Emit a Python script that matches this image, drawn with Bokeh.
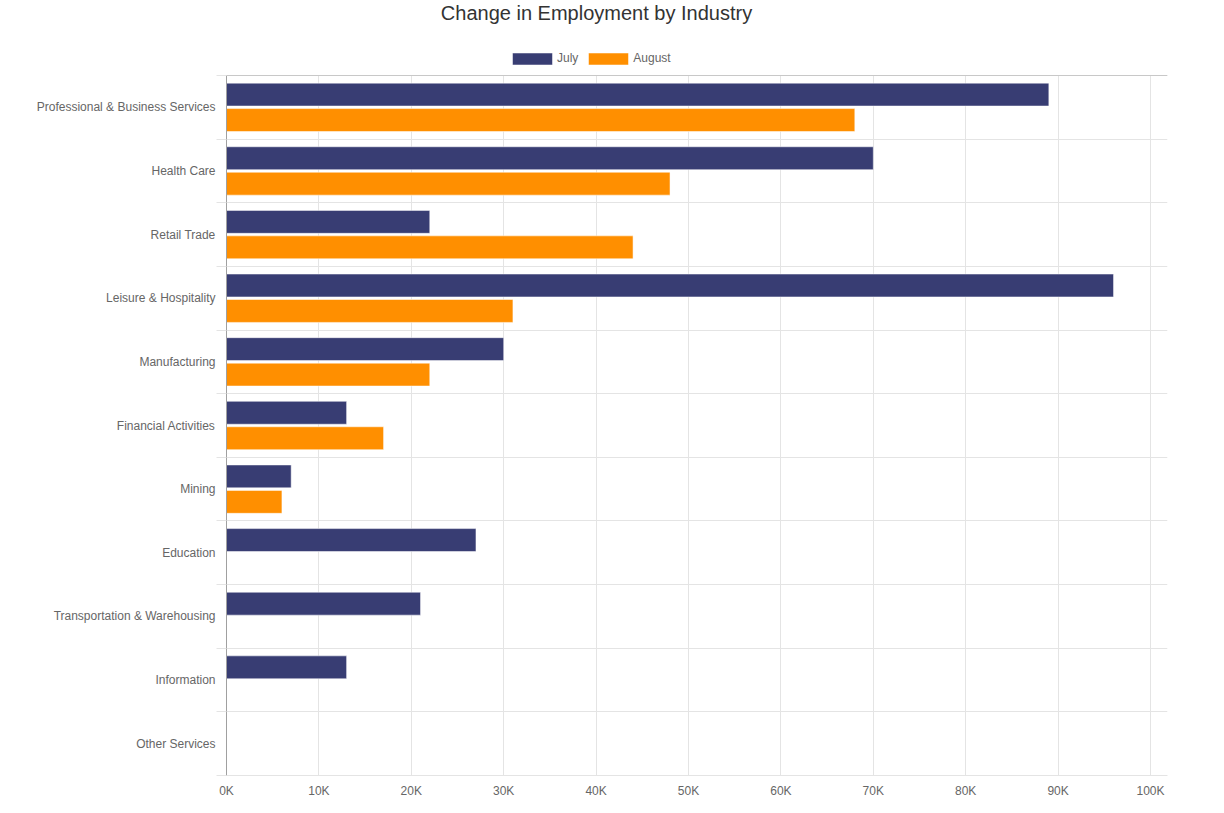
from bokeh.plotting import figure
from bokeh.models import (ColumnDataSource, Range1d, FixedTicker, Legend, LegendItem,
                          Label, Span)
from bokeh.transform import dodge
from bokeh.embed import file_html
from bokeh.resources import INLINE

industries = ["Professional & Business Services", "Health Care", "Retail Trade",
              "Leisure & Hospitality", "Manufacturing", "Financial Activities", "Mining",
              "Education", "Transportation & Warehousing", "Information", "Other Services"]
july = [89000, 70000, 22000, 96000, 30000, 13000, 7000, 27000, 21000, 13000, 0]
august = [68000, 48000, 44000, 31000, 22000, 17000, 6000, 0, 0, 0, 0]
x_ticks = [0, 10000, 20000, 30000, 40000, 50000, 60000, 70000, 80000, 90000, 100000]
x_tick_labels = ["0K", "10K", "20K", "30K", "40K", "50K", "60K", "70K", "80K", "90K", "100K"]

n = len(industries)
pos = [n - 1 - i for i in range(n)]
src = ColumnDataSource(dict(pos=pos, name=industries, july=july, august=august))

FONT = "Liberation Sans"
GRID = "#e4e4e4"

BAND_PX = 700 / n          # pixel height of one category band
HEADER_PX = 75             # space above the bars for title + legend
FRAME_H = 700 + HEADER_PX
y_top = n - 0.5 + HEADER_PX / BAND_PX

p = figure(output_backend="svg", toolbar_location=None,
           x_range=Range1d(0, 101840), y_range=Range1d(-0.5, y_top),
           min_border_left=226, min_border_right=30, min_border_top=0,
           min_border_bottom=30, frame_width=941, frame_height=FRAME_H)
p.outline_line_color = None

r1 = p.hbar(y=dodge("pos", 0.2), right="july", left=0, height=0.36, source=src,
            fill_color="#383d73", line_color="white", line_alpha=0.5, line_width=1)
r2 = p.hbar(y=dodge("pos", -0.2), right="august", left=0, height=0.36, source=src,
            fill_color="#ff8f00", line_color="white", line_alpha=0.5, line_width=1)

# x axis
p.xaxis.ticker = FixedTicker(ticks=x_ticks)
p.xaxis.major_label_overrides = {t: l for t, l in zip(x_ticks, x_tick_labels)}
p.xaxis.axis_line_color = GRID
p.xaxis.major_tick_line_color = None
p.xaxis.minor_tick_line_color = None
p.xaxis.major_label_text_font = FONT
p.xaxis.major_label_text_font_size = "12px"
p.xaxis.major_label_text_color = "#666666"
p.xaxis.major_label_standoff = 2
p.xgrid.grid_line_color = GRID
p.xgrid.cross_bounds = (-0.5, n - 0.5)

# y axis
centers = pos
bounds = [k - 0.5 for k in range(n + 1)]
p.yaxis.ticker = FixedTicker(ticks=centers, minor_ticks=bounds)
p.yaxis.bounds = (-0.5, n - 0.5)
p.yaxis.major_label_overrides = {k: name for k, name in zip(pos, industries)}
p.yaxis.major_tick_line_color = None
p.yaxis.major_tick_out = 6
p.yaxis.major_tick_in = 0
p.yaxis.minor_tick_line_color = GRID
p.yaxis.minor_tick_out = 10
p.yaxis.minor_tick_in = 0
p.yaxis.axis_line_color = "#a0a0a0"
p.yaxis.major_label_text_font = FONT
p.yaxis.major_label_text_font_size = "12px"
p.yaxis.major_label_text_color = "#666666"
p.yaxis.major_label_standoff = 1
p.ygrid.grid_line_color = None
p.ygrid.minor_grid_line_color = GRID
p.ygrid.bounds = (-0.5, n - 0.5)

p.add_layout(Span(location=n - 0.5, dimension="width", line_color="#c8c8c8", line_width=1))

legend = Legend(items=[LegendItem(label="July", renderers=[r1]),
                       LegendItem(label="August", renderers=[r2])],
                orientation="horizontal", location=(281, FRAME_H - 65.5),
                glyph_width=50, glyph_height=15, label_standoff=0, spacing=5,
                padding=0, margin=0, border_line_color=None, background_fill_alpha=0,
                label_text_font=FONT, label_text_font_size="12px", label_text_color="#666666",
                label_height=15)
p.add_layout(legend, "center")

p.add_layout(Label(text="Change in Employment by Industry", x=370, y=FRAME_H - 12,
                   x_units="screen", y_units="screen", text_align="center",
                   text_baseline="alphabetic", text_font=FONT, text_font_size="20px",
                   text_color="#333333"))

open("out.html", "w").write(file_html(p, INLINE))
